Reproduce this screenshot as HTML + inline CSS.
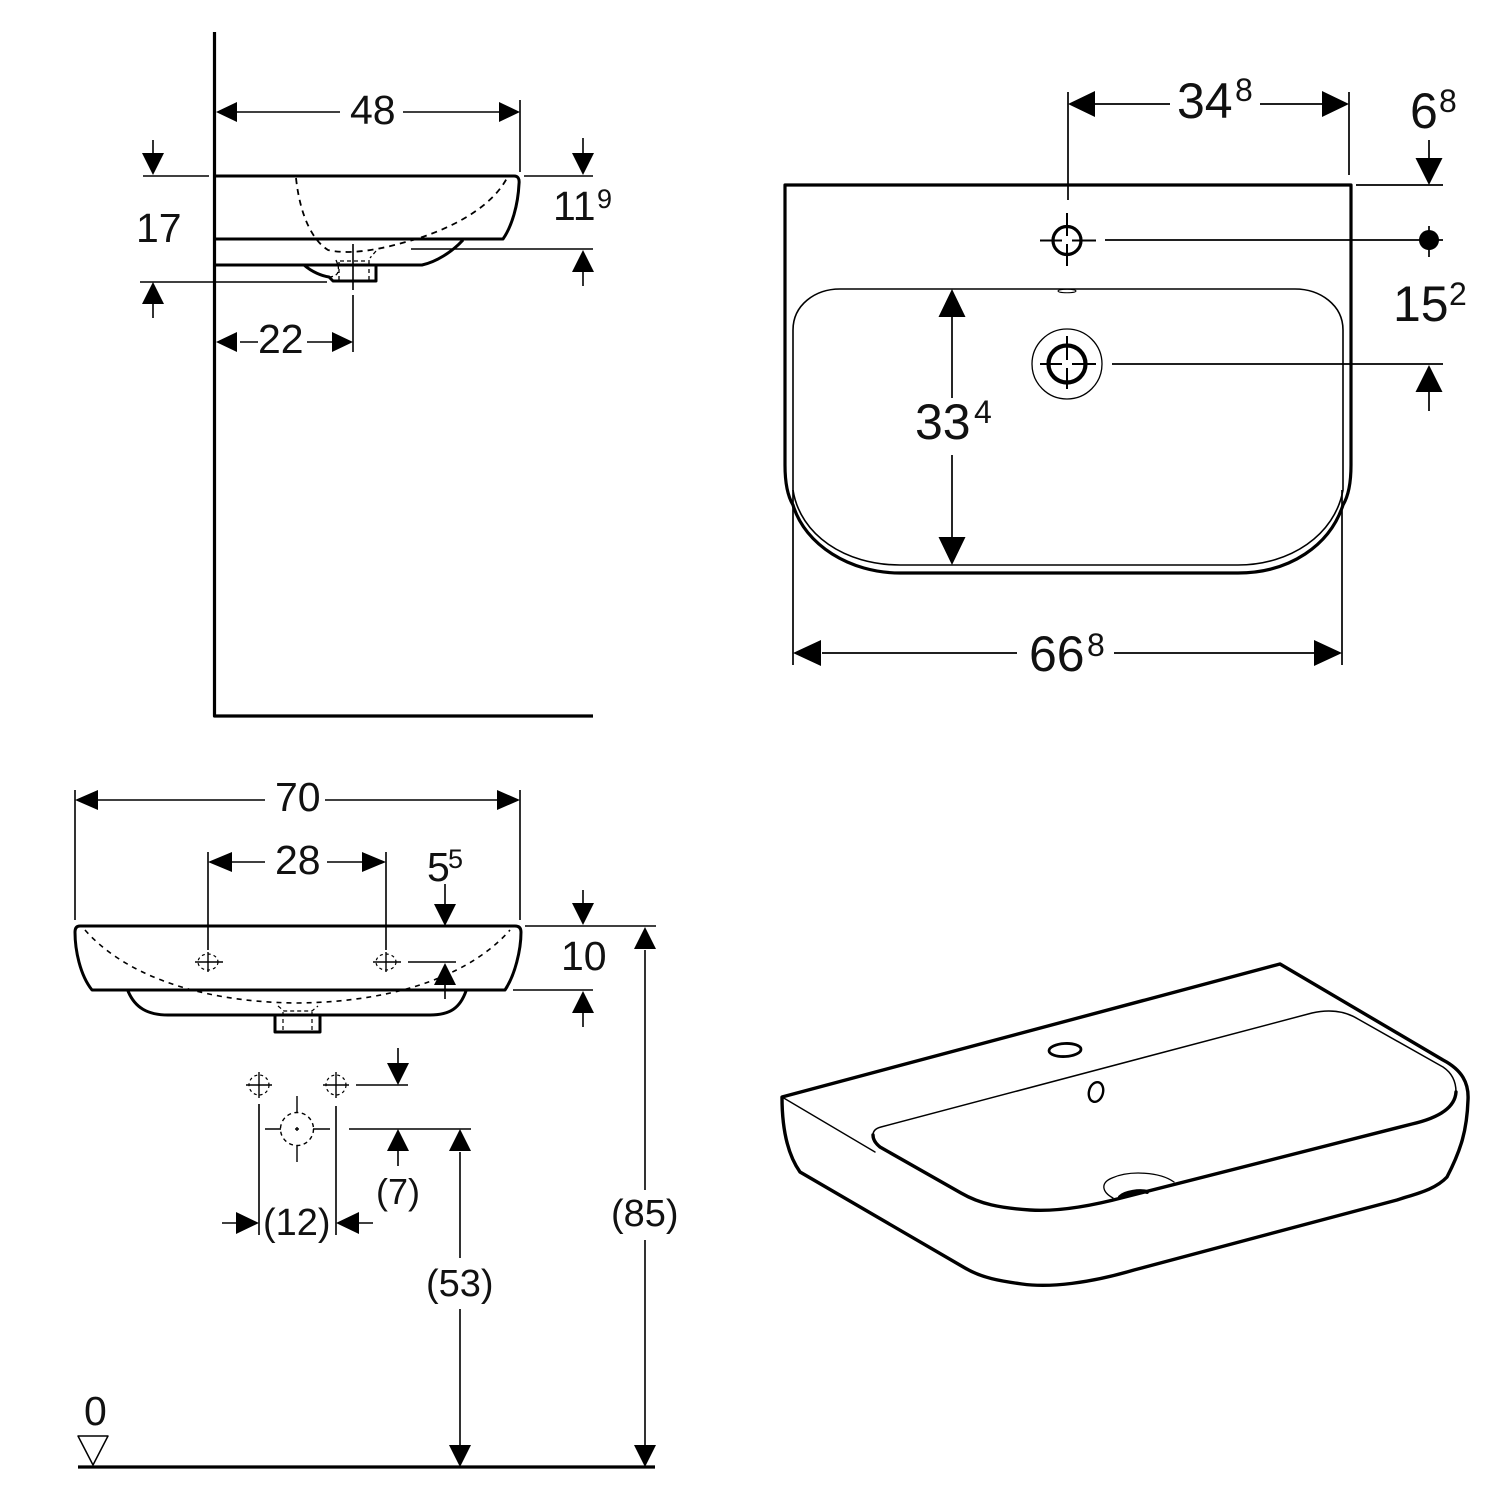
<!DOCTYPE html>
<html><head><meta charset="utf-8"><style>
html,body{margin:0;padding:0;background:#fff}
svg{display:block}
text{font-family:"Liberation Sans",sans-serif;fill:#111}
.a{font-size:38px}.d{font-size:41px}.b{font-size:50px}.s{font-size:32px}.t{font-size:27px}
</style></head><body>
<svg width="1500" height="1500" viewBox="0 0 1500 1500" xmlns="http://www.w3.org/2000/svg">
<rect width="1500" height="1500" fill="#fff"/>

<!-- TOP LEFT -->
<g fill="none" stroke="#000" stroke-linejoin="round" stroke-linecap="butt">
<path d="M214.500 32V716H593" stroke-width="3.200"/>
<path d="M216 176H514Q520 176 519 184C518 205 512 226 503 239H216" stroke-width="3"/>
<path d="M216 265H422C436 262 452 252 463 240" stroke-width="3"/>
<path d="M304 265C312 272 322 276 329 277L333 281H376V265" stroke-width="3"/>
<path d="M296 178C300 215 312 240 328 250C345 254 370 252 402 243C445 232 490 210 507 178" stroke-width="1.800" stroke-dasharray="6 5"/>
<path d="M336 260L338 265M376 251L370 258M340 261H370M339 262V281M369 262V281M338 265C340 275 335 276 330 277" stroke-width="1.300" stroke-dasharray="4 3"/>
<path d="M520 100V172M524 176H593M143 176H209M140 282H327M411 249H593M353 244V290M353 295V352M153 140V160M153 300V318M583 138V160M583 270V286M240 342H258M307 342H335M235 112H340M403 112H500" stroke-width="1.600"/>
</g>
<path d="M216 112l21-10v20zM520 112l-21-10v20zM216 342l21-10v20zM353 342l-21-10v20zM153 175l-11-22h22zM153 282l-11 22h22zM583 175l-11-22h22zM583 250l-11 22h22z" fill="#000"/>
<text class="d" x="350" y="124">48</text>
<text class="d" x="136" y="242">17</text>
<text class="d" x="553" y="220">11</text><text class="t" x="597" y="208">9</text>
<text class="d" x="258" y="353">22</text>

<!-- TOP RIGHT -->
<g fill="none" stroke="#000" stroke-linejoin="round">
<path d="M1351 185H785V465C785 480 787 495 793 505C805 545 850 573 900 573H1238C1290 573 1330 545 1343 505C1349 495 1351 480 1351 465Z" stroke-width="3.200"/>
<path d="M793 490C800 535 845 565 900 565H1238C1290 565 1335 535 1343 490V330C1343 305 1320 289 1295 289H840C815 289 793 305 793 330Z" stroke-width="1.600" />
<path d="M793 490V665M1342 490V665M1068 92V200M1349 92V175M1356 185H1443M1105 240H1443M1429 226V257M1112 364H1443M1429 140V160M1429 392V411M952 316V398M952 455V540M822 653H1017M1114 653H1315M1095 104H1170M1260 104H1322" stroke-width="1.700"/>
<ellipse cx="1067" cy="291" rx="9" ry="1.800" stroke-width="1"/>
<circle cx="1067" cy="240.500" r="14" stroke-width="3.200"/>
<circle cx="1067" cy="364" r="18.500" stroke-width="4.200"/>
<circle cx="1067" cy="364" r="35" stroke-width="1.300"/>
<path d="M1067 213V236M1067 244V266M1040 240.500H1062M1072 240.500H1096M1067 336V360M1067 368V389M1040 364H1062M1072 364H1096" stroke-width="2"/>
</g>
<circle cx="1429" cy="240" r="10" fill="#000"/>
<path d="M1068 104l27-13v26zM1349 104l-27-13v26zM793 653l28-13v26zM1342 653l-28-13v26zM952 289l-13.500 28h27zM952 565l-13.500-28h27zM1429 185l-13.500-27h27zM1429 365l-13.500 27h27z" fill="#000"/>
<text class="b" x="1177" y="118">34</text><text class="s" x="1235" y="101">8</text>
<text class="b" x="1410" y="128">6</text><text class="s" x="1439" y="112">8</text>
<text class="b" x="1393" y="321">15</text><text class="s" x="1449" y="305">2</text>
<text class="b" x="915" y="439">33</text><text class="s" x="974" y="423">4</text>
<text class="b" x="1029" y="671">66</text><text class="s" x="1087" y="656">8</text>

<!-- BOTTOM LEFT -->
<g fill="none" stroke="#000" stroke-linejoin="round">
<path d="M80 926H515Q521 926 521 932C521 950 515 975 505 990H92C80 975 75 950 75 932Q75 926 80 926Z" stroke-width="3"/>
<path d="M128 991C135 1008 148 1015 168 1015H430C450 1015 460 1008 466 991" stroke-width="3"/>
<path d="M275 1016V1032H320V1016" stroke-width="3"/>
<path d="M85 930C120 970 190 1002 297 1003C405 1002 475 970 510 930" stroke-width="1.600" stroke-dasharray="5 5"/>
<path d="M278 1006L284 1011H312L318 1006M283 1012V1030M312 1012V1030" stroke-width="1.200" stroke-dasharray="4 3"/>
<path d="M75 790V920M520 790V920M208 852V950M386 852V950M525 926H656M513 990H593M408 962H456M445 884V905M445 985V999M583 890V905M583 1012V1027M645 950V1190M645 1240V1445M460 1152V1258M460 1309V1445M98 800H265M325 800H498M232 862H265M327 862H364M356 1085H408M349 1129H471M398 1048V1065M398 1150V1166M222 1223H236M358 1223H373M259 1104V1235M336 1106V1235" stroke-width="1.600"/>
<path d="M195 962H223M208 952V972M373 962H401M386 952V972M246 1085H272M259 1072V1098M323 1085H349M336 1072V1098M297 1096V1113M297 1145V1162M265 1129H281M313 1129H330M295 1129H299M297 1127V1131" stroke-width="1.400"/>
<g stroke-width="1.200" stroke-dasharray="3 3">
<ellipse cx="208" cy="962" rx="10" ry="8"/><ellipse cx="386" cy="962" rx="10" ry="8"/>
<circle cx="259" cy="1085" r="10"/><circle cx="336" cy="1085" r="10"/>
</g>
<circle cx="297" cy="1129" r="16.500" stroke-width="1.400" stroke-dasharray="4 3.500"/>
<path d="M78 1467H655" stroke-width="3.200"/>
<path d="M78 1436H108L93 1465Z" stroke-width="1.500"/>
</g>
<path d="M75 800l23-10v20zM520 800l-23-10v20zM208 862l24-10v20zM386 862l-24-10v20zM445 926l-11-22h22zM445 963l-11 22h22zM583 925l-11-22h22zM583 991l-11 22h22zM645 927l-11 22h22zM645 1467l-11-22h22zM460 1129l-11 22h22zM460 1467l-11-22h22zM398 1085l-11-22h22zM398 1129l-11 22h22zM259 1223l-23-11v22zM336 1223l23-11v22z" fill="#000"/>
<text class="d" x="275" y="811">70</text>
<text class="d" x="275" y="874">28</text>
<text class="d" x="427" y="881">5</text><text class="t" x="448" y="868">5</text>
<text class="d" x="561" y="970">10</text>
<text class="a" x="611" y="1226">(85)</text>
<text class="a" x="426" y="1296">(53)</text>
<text x="376" y="1204" style="font-size:36px">(7)</text>
<text class="a" x="263" y="1235">(12)</text>
<text class="d" x="84" y="1425">0</text>

<!-- ISO VIEW -->
<g fill="none" stroke="#000" stroke-linejoin="round" stroke-linecap="round">
<path d="M782 1097L1280 964L1443 1060C1462 1070 1469 1083 1468 1100C1467 1130 1461 1150 1447 1177C1435 1190 1415 1194 1397 1200L1134 1270C1090 1283 1050 1288 1022 1284C1000 1281 982 1278 965 1268L800 1172C788 1155 782 1130 782 1097Z" stroke-width="3.400"/>
<path d="M782 1097L875 1152" stroke-width="1.400"/>
<path d="M873 1135C873 1130 877 1128 881 1127L1312 1013C1330 1009 1345 1011 1358 1019L1443 1067C1452 1073 1456 1082 1456 1092" stroke-width="1.500"/>
<path d="M1456 1092C1455 1108 1438 1118 1412 1124L1125 1197C1095 1205 1060 1212 1030 1210C1000 1208 980 1204 961 1193L880 1147C875 1143 873 1139 873 1135" stroke-width="3.400"/>
<ellipse cx="1065" cy="1050" rx="16" ry="6.500" stroke-width="2.800" transform="rotate(-3 1065 1050)"/>
<ellipse cx="1096" cy="1092" rx="7" ry="10" stroke-width="2.400" transform="rotate(15 1096 1092)"/>
<path d="M1113 1198C1102 1192 1100 1183 1112 1178C1130 1170 1160 1172 1174 1182" stroke-width="1.300"/>
<path d="M1120 1197C1125 1192 1140 1190 1147 1192" stroke-width="4"/>
</g>
</svg>
</body></html>
